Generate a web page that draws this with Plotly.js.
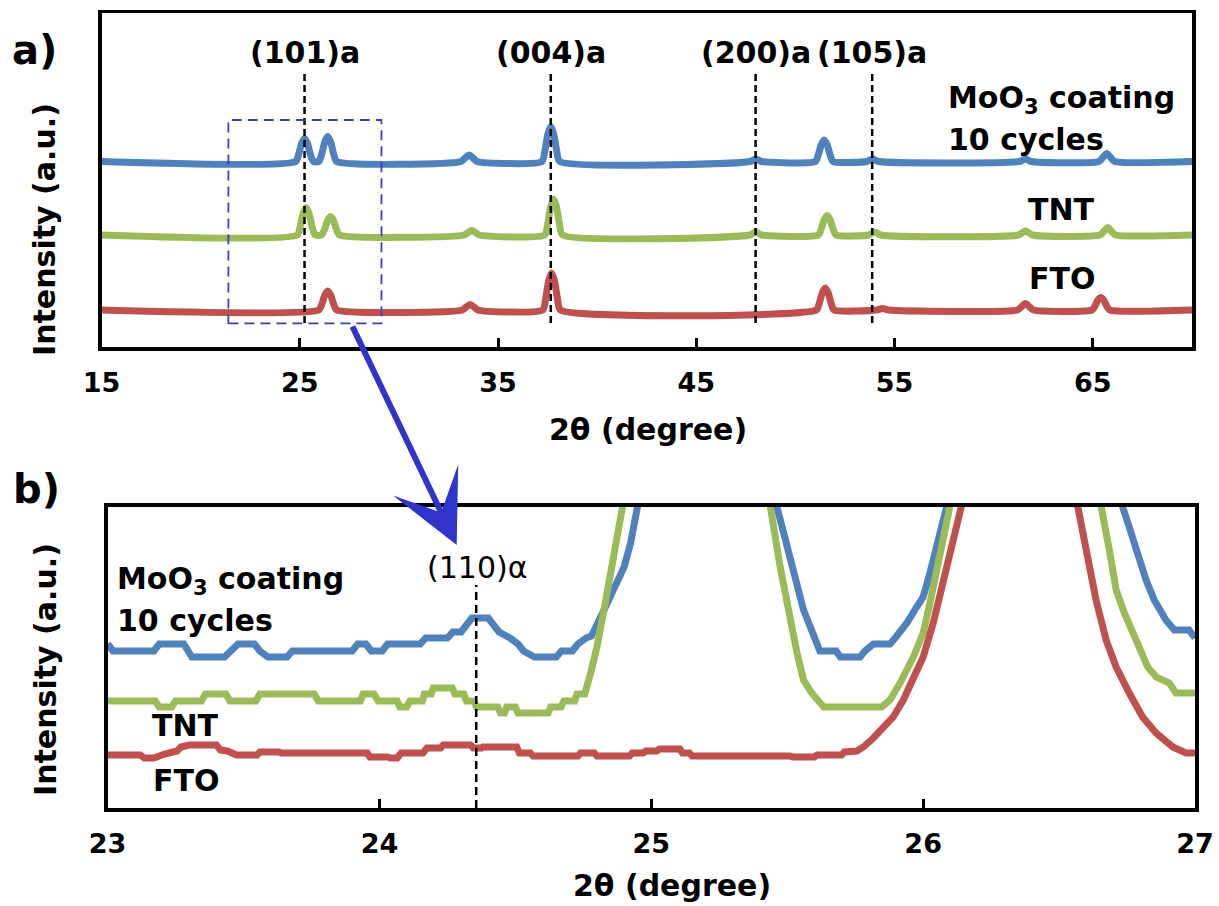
<!DOCTYPE html>
<html>
<head>
<meta charset="utf-8">
<script src="https://cdn.plot.ly/plotly-3.0.1.min.js"></script>
<style>html,body{margin:0;padding:0;background:#fff;}#chart{width:1219px;height:906px;}</style>
</head>
<body>
<div id="chart"></div>
<script>
// ---------- Panel a) data (2θ in degrees, intensity in a.u., stacked) ----------
const topTickVals = [15, 25, 35, 45, 55, 65];
const topBlueX = [15, 24.79, 24.94, 25.09, 25.24, 25.39, 25.54, 25.69, 25.96, 26.11, 26.26, 26.41, 26.56, 26.71, 26.86, 33.14, 33.34, 33.54, 33.74, 33.94, 37.21, 37.36, 37.51, 37.66, 37.81, 37.96, 38.11, 47.7, 48.0, 48.3, 51.0, 51.15, 51.3, 51.45, 51.6, 51.75, 51.9, 53.6, 53.9, 54.2, 61.3, 61.6, 61.9, 65.3, 65.5, 65.7, 65.9, 66.1, 70];
const topBlueY = [185.5, 185.5, 192.4, 203.4, 208.5, 203.4, 192.4, 185.5, 185.5, 193, 205, 210.5, 205, 193, 185.5, 185.5, 189, 192, 189, 185.5, 185.5, 196, 212.8, 220.5, 212.8, 196, 185.5, 185.5, 188, 185.5, 185.5, 192, 202.3, 207, 202.3, 192, 185.5, 185.5, 188, 185.5, 185.5, 188, 185.5, 185.5, 189.5, 193.5, 189.5, 185.5, 185.5];
const topGreenX = [15, 24.87, 25.02, 25.17, 25.32, 25.47, 25.62, 25.77, 26.1, 26.25, 26.4, 26.55, 26.7, 26.85, 27.0, 33.3, 33.48, 33.67, 33.86, 34.05, 37.35, 37.5, 37.65, 37.8, 37.95, 38.1, 38.25, 47.7, 48.0, 48.3, 51.15, 51.3, 51.45, 51.6, 51.75, 51.9, 52.05, 53.7, 54.0, 54.3, 61.25, 61.6, 61.95, 65.35, 65.55, 65.75, 65.95, 66.15, 70];
const topGreenY = [112, 112, 120.3, 133.5, 139.5, 133.5, 120.3, 112, 112, 117.6, 126.4, 130.5, 126.4, 117.6, 112, 112, 114.5, 116.5, 114.5, 112, 112, 122.8, 140.1, 148, 140.1, 122.8, 112, 112, 115, 112, 112, 117.9, 127.2, 131.5, 127.2, 117.9, 112, 112, 115, 112, 112, 116, 112, 112, 115.5, 119.5, 115.5, 112, 112];
const topRedX = [15, 25.96, 26.11, 26.26, 26.41, 26.56, 26.71, 26.86, 33.2, 33.4, 33.59, 33.78, 33.98, 37.25, 37.4, 37.55, 37.7, 37.85, 38.0, 38.15, 51.05, 51.2, 51.35, 51.5, 51.65, 51.8, 51.95, 54.1, 54.4, 54.7, 61.2, 61.4, 61.6, 61.8, 62.0, 64.95, 65.1, 65.25, 65.4, 65.55, 65.7, 65.85, 70];
const topRedY = [37, 37, 42.7, 51.8, 56, 51.8, 42.7, 37, 37, 40.2, 42.5, 40.2, 37, 37, 48.1, 65.9, 74, 65.9, 48.1, 37, 37, 43.6, 54.2, 59, 54.2, 43.6, 37, 37, 38.5, 37, 37, 40.2, 43.5, 40.2, 37, 37, 40.8, 46.8, 49.5, 46.8, 40.8, 37, 37];
const topRefX = [25.24, 37.66, 47.99, 53.87];
const topRefLabels = ["(101)a", "(004)a", "(200)a", "(105)a"];

// ---------- Panel b) data (zoom 23–27°) ----------
const botTickVals = [23, 24, 25, 26, 27];
const botBlueX = [23.00, 23.02, 23.17, 23.19, 23.28, 23.31, 23.43, 23.45, 23.48, 23.54, 23.56, 23.59, 23.66, 23.68, 23.90, 23.92, 23.95, 23.97, 24.01, 24.03, 24.15, 24.17, 24.25, 24.27, 24.30, 24.32, 24.34, 24.40, 24.42, 24.44, 24.48, 24.51, 24.53, 24.57, 24.65, 24.67, 24.71, 24.73, 24.76, 24.78, 24.826, 24.863, 24.90, 24.924, 24.949, 25.2, 25.462, 25.487, 25.511, 25.536, 25.56, 25.585, 25.61, 25.62, 25.68, 25.695, 25.768, 25.786, 25.817, 25.878, 25.90, 25.94, 25.976, 26.0, 26.025, 26.05, 26.074, 26.086, 26.41, 26.734, 26.765, 26.79, 26.82, 26.85, 26.893, 26.924, 26.978, 27.0];
const botBlueY = [164, 157, 157, 164, 164, 151, 151, 157, 164, 164, 157, 151, 151, 157, 157, 164, 164, 157, 157, 164, 164, 170, 170, 176, 176, 183, 190, 190, 183, 176, 170, 164, 157, 151, 151, 157, 157, 164, 170, 172, 198, 221, 241, 265, 301, 1200, 301, 275, 248, 221, 198, 181, 165, 157, 157, 151, 151, 157, 164, 164, 171, 185, 201, 211, 235, 261, 288, 301, 1200, 301, 275, 251, 228, 208, 188, 178, 178, 170];
const botGreenX = [23.0, 23.175, 23.19, 23.235, 23.25, 23.345, 23.36, 23.435, 23.45, 23.545, 23.56, 23.76, 23.775, 23.93, 23.94, 23.98, 23.995, 24.065, 24.075, 24.10, 24.112, 24.158, 24.165, 24.19, 24.198, 24.268, 24.278, 24.31, 24.32, 24.348, 24.357, 24.435, 24.445, 24.46, 24.468, 24.50, 24.51, 24.62, 24.63, 24.668, 24.678, 24.718, 24.727, 24.755, 24.777, 24.80, 24.826, 24.85, 24.875, 24.894, 25.17, 25.438, 25.474, 25.511, 25.536, 25.56, 25.59, 25.634, 25.848, 25.878, 25.915, 25.964, 26.0, 26.025, 26.05, 26.074, 26.098, 26.38, 26.655, 26.685, 26.71, 26.74, 26.783, 26.826, 26.857, 26.905, 26.93, 27.0];
const botGreenY = [107, 107, 101, 101, 107, 107, 114, 114, 107, 107, 114, 114, 107, 107, 114, 114, 107, 107, 101, 101, 107, 107, 114, 114, 120, 120, 114, 114, 107, 107, 101, 101, 95, 95, 101, 101, 95, 95, 101, 101, 107, 107, 114, 114, 135, 161, 198, 235, 271, 301, 1200, 301, 241, 188, 155, 128, 115, 101, 101, 108, 125, 151, 175, 205, 241, 275, 301, 1200, 301, 258, 218, 195, 168, 141, 131, 125, 115, 115];
const botRedX = [23.0, 23.12, 23.135, 23.17, 23.21, 23.255, 23.27, 23.30, 23.40, 23.415, 23.44, 23.475, 23.55, 23.56, 23.63, 23.64, 23.955, 23.965, 24.03, 24.04, 24.065, 24.08, 24.16, 24.175, 24.225, 24.235, 24.335, 24.345, 24.375, 24.38, 24.505, 24.515, 24.555, 24.565, 24.73, 24.74, 24.79, 24.80, 24.92, 24.93, 24.97, 24.98, 25.02, 25.03, 25.105, 25.115, 25.14, 25.15, 25.51, 25.52, 25.60, 25.61, 25.70, 25.71, 25.756, 25.78, 25.817, 25.854, 25.89, 25.927, 25.964, 26.0, 26.037, 26.074, 26.098, 26.123, 26.14, 26.35, 26.569, 26.60, 26.636, 26.673, 26.71, 26.758, 26.807, 26.857, 26.918, 26.967, 27.0];
const botRedY = [53, 53, 50, 50, 54, 57, 61, 63, 63, 58, 57, 53, 53, 56, 56, 55, 55, 51, 51, 50, 50, 55, 55, 60, 60, 63, 63, 60, 60, 61, 61, 55, 55, 52, 52, 55, 55, 52, 52, 55, 55, 57, 57, 59, 59, 55, 55, 52, 52, 51, 51, 53, 53, 56, 57, 61, 70, 80, 91, 108, 128, 151, 185, 225, 258, 285, 301, 1200, 301, 258, 208, 168, 141, 115, 91, 75, 61, 55, 55];
const botRefX = 24.356;
const botRefLabel = "(110)\u03b1";

// ---------- styling ----------
const BLUE = "#4F81BD", GREEN = "#9BBB59", RED = "#C0504D";
const FONT = "DejaVu Sans";
const W = 1219, H = 906;
const px = x => x / W;
const py = y => 1 - y / H;

function trace(x, y, color, xa, ya, shape) {
  return {x: x, y: y, xaxis: xa, yaxis: ya, type: "scatter", mode: "lines",
    line: {color: color, width: 7, shape: shape || "linear", smoothing: 0.6}, hoverinfo: "skip", showlegend: false};
}

const data = [
  trace(topBlueX, topBlueY, BLUE, "x", "y", "spline"),
  trace(topGreenX, topGreenY, GREEN, "x", "y", "spline"),
  trace(topRedX, topRedY, RED, "x", "y", "spline"),
  trace(botBlueX, botBlueY, BLUE, "x2", "y2"),
  trace(botGreenX, botGreenY, GREEN, "x2", "y2"),
  trace(botRedX, botRedY, RED, "x2", "y2")
];

const xBase = {
  ticks: "inside", ticklen: 9, tickwidth: 3, tickcolor: "black",
  showline: true, linecolor: "black", linewidth: 3.5, mirror: true,
  showgrid: false, zeroline: false, fixedrange: true,
  tickfont: {family: FONT, size: 27, color: "black", weight: "bold"},
  ticklabelstandoff: 9
};
const yBase = {
  showline: true, linecolor: "black", linewidth: 3.5, mirror: true,
  ticks: "", showticklabels: false, showgrid: false, zeroline: false, fixedrange: true
};

const shapes = [];
topRefX.forEach(v => shapes.push({type: "line", xref: "x", yref: "y", x0: v, x1: v, y0: 24, y1: 274,
  line: {color: "black", width: 2.5, dash: "7px,4px"}}));
shapes.push({type: "line", xref: "x2", yref: "y2", x0: botRefX, x1: botRefX, y0: 0, y1: 223,
  line: {color: "black", width: 2.5, dash: "8px,5px"}});
shapes.push({type: "rect", xref: "x", yref: "y", x0: 21.4, x1: 29.12, y0: 23.7, y1: 227,
  line: {color: "#3C40BE", width: 1.8, dash: "10px,6px"}});

const bold = {family: FONT, size: 30, color: "black", weight: "bold"};
function txt(t, x, y, opts) {
  return Object.assign({text: t, xref: "paper", yref: "paper", x: px(x), y: py(y), showarrow: false,
    xanchor: "center", yanchor: "middle", font: bold}, opts || {});
}

const annotations = [
  txt("a)", 34, 50, {font: {family: FONT, size: 40, color: "black", weight: "bold"}}),
  txt("b)", 36, 489, {font: {family: FONT, size: 40, color: "black", weight: "bold"}}),
  txt("2\u03b8 (degree)", 648, 429),
  txt("2\u03b8 (degree)", 672, 885),
  txt("Intensity (a.u.)", 45, 230, {textangle: -90}),
  txt("Intensity (a.u.)", 45, 670, {textangle: -90}),
  txt("MoO<sub>3</sub> coating", 946, 99, {xanchor: "left"}),
  txt("10 cycles", 946, 139, {xanchor: "left"}),
  txt("TNT", 1061, 210),
  txt("FTO", 1062, 278),
  txt("MoO<sub>3</sub> coating", 115, 580, {xanchor: "left"}),
  txt("10 cycles", 115, 620, {xanchor: "left"}),
  txt("TNT", 185, 725),
  txt("FTO", 186, 780),
  txt(botRefLabel, 477, 567, {font: {family: FONT, size: 30, color: "black", weight: "normal"}}),
  {text: "", xref: "paper", yref: "paper", x: px(456.7), y: py(545), ax: -105, ay: -220,
   axref: "pixel", ayref: "pixel", showarrow: true, arrowhead: 3, arrowsize: 2, arrowwidth: 6,
   arrowcolor: "#3034CC", standoff: 0}
];
topRefX.forEach((v, i) => annotations.push({text: topRefLabels[i], xref: "x", yref: "paper", x: v, y: py(53),
  showarrow: false, xanchor: "center", yanchor: "middle", font: bold}));

const layout = {
  width: W, height: H, margin: {l: 0, r: 0, t: 0, b: 0},
  paper_bgcolor: "white", plot_bgcolor: "white",
  font: {family: FONT, color: "black"},
  showlegend: false,
  xaxis: Object.assign({}, xBase, {domain: [px(101.5), px(1192)], anchor: "y", range: [15, 70], tickvals: topTickVals}),
  yaxis: Object.assign({}, yBase, {domain: [py(347), py(13)], anchor: "x", range: [0, 334]}),
  xaxis2: Object.assign({}, xBase, {domain: [px(107.6), px(1195)], anchor: "y2", range: [23, 27], tickvals: botTickVals}),
  yaxis2: Object.assign({}, yBase, {domain: [py(808), py(506.5)], anchor: "x2", range: [0, 301.5]}),
  shapes: shapes,
  annotations: annotations
};

Plotly.newPlot("chart", data, layout, {staticPlot: true, displayModeBar: false});
</script>
</body>
</html>
